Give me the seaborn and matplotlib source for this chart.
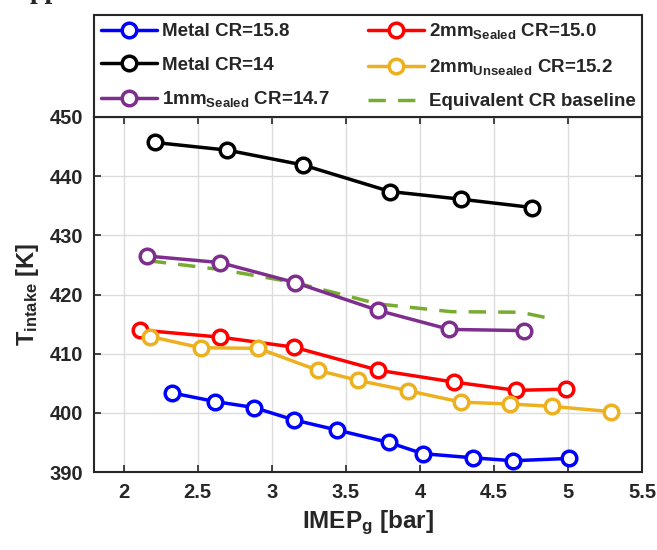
import matplotlib
matplotlib.use("Agg")
import matplotlib.pyplot as plt
import seaborn as sns
import pandas as pd
from matplotlib.lines import Line2D

# ---- data ----
metal158_x = [2.33, 2.62, 2.88, 3.15, 3.44, 3.79, 4.02, 4.36, 4.63, 5.01]
metal158_y = [403.35, 401.9, 400.9, 398.8, 397.1, 395.0, 393.1, 392.4, 391.9, 392.3]

metal14_x = [2.21, 2.70, 3.21, 3.80, 4.28, 4.76]
metal14_y = [445.7, 444.4, 441.9, 437.4, 436.1, 434.7]

mm1_sealed_x = [2.16, 2.65, 3.16, 3.72, 4.20, 4.70]
mm1_sealed_y = [426.5, 425.4, 422.0, 417.3, 414.1, 413.9]

mm2_sealed_x = [2.11, 2.65, 3.15, 3.72, 4.23, 4.65, 4.99]
mm2_sealed_y = [414.0, 412.8, 411.1, 407.2, 405.2, 403.8, 404.0]

mm2_unsealed_x = [2.18, 2.52, 2.91, 3.31, 3.58, 3.92, 4.28, 4.61, 4.89, 5.29]
mm2_unsealed_y = [412.9, 411.0, 410.9, 407.2, 405.5, 403.75, 401.8, 401.5, 401.1, 400.2]

baseline_x = [2.17, 2.66, 3.16, 3.72, 4.21, 4.68, 4.91]
baseline_y = [425.7, 424.2, 422.0, 418.4, 417.1, 417.0, 415.8]

labels = [
    "Metal CR=15.8",
    "Metal CR=14",
    r"1mm$_{\mathrm{Sealed}}$ CR=14.7",
    r"2mm$_{\mathrm{Sealed}}$ CR=15.0",
    r"2mm$_{\mathrm{Unsealed}}$ CR=15.2",
    "Equivalent CR baseline",
]
xticks = [2, 2.5, 3, 3.5, 4, 4.5, 5, 5.5]
yticks = [390, 400, 410, 420, 430, 440, 450]

# ---- style ----
sns.set_style("ticks")
plt.rcParams["font.family"] = ["Liberation Sans", "DejaVu Sans"]
plt.rcParams["font.weight"] = "bold"
plt.rcParams["mathtext.fontset"] = "custom"
plt.rcParams["mathtext.rm"] = "Liberation Sans:bold"
plt.rcParams["mathtext.it"] = "Liberation Sans:bold"
plt.rcParams["mathtext.bf"] = "Liberation Sans:bold"
plt.rcParams["mathtext.default"] = "rm"

W, H = 657, 550
fig = plt.figure(figsize=(W / 100, H / 100), dpi=100)
ax = fig.add_axes([94 / W, 1 - 472 / H, (642 - 94) / W, (472 - 117) / H])

series = [
    (metal158_x, metal158_y, "#0000FF"),
    (metal14_x, metal14_y, "#000000"),
    (mm1_sealed_x, mm1_sealed_y, "#7E2F8E"),
    (mm2_sealed_x, mm2_sealed_y, "#FF0000"),
    (mm2_unsealed_x, mm2_unsealed_y, "#EDB120"),
]

handles = []
for (xs, ys, c), lab in zip(series, labels[:5]):
    df = pd.DataFrame({"x": xs, "y": ys})
    sns.lineplot(data=df, x="x", y="y", ax=ax, sort=False, color=c, lw=2.5,
                 marker="o", markersize=10.5, markerfacecolor="white",
                 markeredgecolor=c, markeredgewidth=2.5, zorder=3)
    handles.append(Line2D([], [], color=c, lw=2.5, marker="o", markersize=10.5,
                          markerfacecolor="white", markeredgecolor=c,
                          markeredgewidth=2.5, label=lab))

dfb = pd.DataFrame({"x": baseline_x, "y": baseline_y})
sns.lineplot(data=dfb, x="x", y="y", ax=ax, sort=False, color="#77AC30",
             lw=2.5, zorder=2)
ax.lines[-1].set_dashes((5, 3.5))
handles.append(Line2D([], [], color="#77AC30", lw=2.5, dashes=(5, 3.5),
                      label=labels[5]))

ax.set_xlim(1.8, 5.5)
ax.set_ylim(390, 450)
ax.set_xticks(xticks)
ax.set_xticklabels([f"{t:g}" for t in xticks])
ax.set_yticks(yticks)
ax.grid(True, color="#dcdcdc", lw=1.0)
ax.set_axisbelow(True)
ax.tick_params(direction="in", top=True, right=True, length=5, width=1.2,
               labelsize=14.5, pad=8, color="#262626")
for sp in ax.spines.values():
    sp.set_linewidth(1.5)
    sp.set_color("#262626")
    sp.set_visible(True)

ax.set_xlabel(r"IMEP$_{\mathrm{g}}$ [bar]", fontsize=17.5, fontweight="bold", labelpad=5)
ax.set_ylabel(r"T$_{\mathrm{intake}}$ [K]", fontsize=17, fontweight="bold", labelpad=6)

leg = ax.legend(handles=handles, ncol=2, loc="lower left",
                bbox_to_anchor=(0, 1.0, 1, 0.3), mode="expand", borderaxespad=0,
                frameon=True, fancybox=False, handlelength=3.0,
                handletextpad=0.25, labelspacing=0.85, columnspacing=0.8,
                borderpad=0.35, prop={"weight": "bold", "size": 13.5})
leg.get_frame().set_edgecolor("#262626")
leg.get_frame().set_linewidth(1.5)
leg.get_frame().set_alpha(1)

fig.text(0.045, 1 + 1.5 / H, "pp", family="Liberation Serif", weight="bold",
         fontsize=20, va="baseline", ha="left")

fig.savefig("out.png", dpi=100)
